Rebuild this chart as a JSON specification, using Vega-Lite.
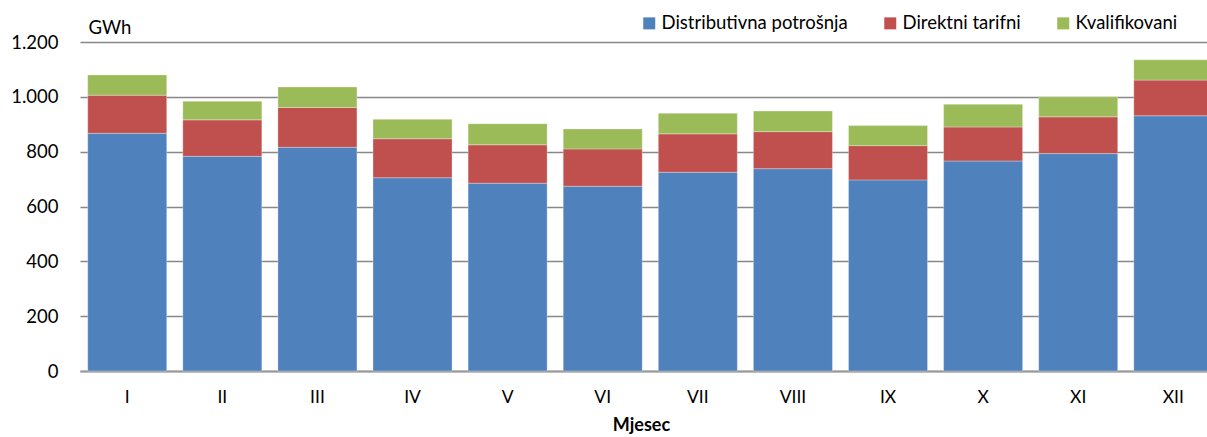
{
  "$schema": "https://vega.github.io/schema/vega-lite/v6.json",
  "width": 1135,
  "height": 329,
  "autosize": {"type": "none"},
  "padding": {"left": 80, "top": 42, "right": -8, "bottom": 66},
  "background": "white",
  "config": {
    "view": {"stroke": null},
    "font": "Lato",
    "axis": {"labelFont": "Lato", "titleFont": "Lato", "labelColor": "#000000", "titleColor": "#000000"},
    "legend": {"labelFont": "Lato"}
  },
  "data": {
    "values": [
      {"m": "I", "s": "Distributivna potrošnja", "r": 1, "v": 867},
      {"m": "I", "s": "Direktni tarifni", "r": 2, "v": 139},
      {"m": "I", "s": "Kvalifikovani", "r": 3, "v": 74},
      {"m": "II", "s": "Distributivna potrošnja", "r": 1, "v": 783},
      {"m": "II", "s": "Direktni tarifni", "r": 2, "v": 133},
      {"m": "II", "s": "Kvalifikovani", "r": 3, "v": 68},
      {"m": "III", "s": "Distributivna potrošnja", "r": 1, "v": 816},
      {"m": "III", "s": "Direktni tarifni", "r": 2, "v": 145},
      {"m": "III", "s": "Kvalifikovani", "r": 3, "v": 75},
      {"m": "IV", "s": "Distributivna potrošnja", "r": 1, "v": 705},
      {"m": "IV", "s": "Direktni tarifni", "r": 2, "v": 142},
      {"m": "IV", "s": "Kvalifikovani", "r": 3, "v": 71},
      {"m": "V", "s": "Distributivna potrošnja", "r": 1, "v": 685},
      {"m": "V", "s": "Direktni tarifni", "r": 2, "v": 140},
      {"m": "V", "s": "Kvalifikovani", "r": 3, "v": 77},
      {"m": "VI", "s": "Distributivna potrošnja", "r": 1, "v": 674},
      {"m": "VI", "s": "Direktni tarifni", "r": 2, "v": 136},
      {"m": "VI", "s": "Kvalifikovani", "r": 3, "v": 73},
      {"m": "VII", "s": "Distributivna potrošnja", "r": 1, "v": 725},
      {"m": "VII", "s": "Direktni tarifni", "r": 2, "v": 140},
      {"m": "VII", "s": "Kvalifikovani", "r": 3, "v": 75},
      {"m": "VIII", "s": "Distributivna potrošnja", "r": 1, "v": 738},
      {"m": "VIII", "s": "Direktni tarifni", "r": 2, "v": 135},
      {"m": "VIII", "s": "Kvalifikovani", "r": 3, "v": 75},
      {"m": "IX", "s": "Distributivna potrošnja", "r": 1, "v": 697},
      {"m": "IX", "s": "Direktni tarifni", "r": 2, "v": 125},
      {"m": "IX", "s": "Kvalifikovani", "r": 3, "v": 73},
      {"m": "X", "s": "Distributivna potrošnja", "r": 1, "v": 766},
      {"m": "X", "s": "Direktni tarifni", "r": 2, "v": 124},
      {"m": "X", "s": "Kvalifikovani", "r": 3, "v": 83},
      {"m": "XI", "s": "Distributivna potrošnja", "r": 1, "v": 793},
      {"m": "XI", "s": "Direktni tarifni", "r": 2, "v": 134},
      {"m": "XI", "s": "Kvalifikovani", "r": 3, "v": 73},
      {"m": "XII", "s": "Distributivna potrošnja", "r": 1, "v": 931},
      {"m": "XII", "s": "Direktni tarifni", "r": 2, "v": 130},
      {"m": "XII", "s": "Kvalifikovani", "r": 3, "v": 74}
    ]
  },
  "mark": {"type": "bar", "stroke": "#ffffff", "strokeWidth": 0.6, "strokeOpacity": 0.5},
  "encoding": {
    "x": {
      "field": "m",
      "type": "ordinal",
      "sort": ["I", "II", "III", "IV", "V", "VI", "VII", "VIII", "IX", "X", "XI", "XII"],
      "scale": {"paddingInner": 0.169, "paddingOuter": 0.052, "align": 0.78},
      "axis": {
        "title": "Mjesec",
        "titleFontWeight": "bold",
        "titleFontSize": 18,
        "titlePadding": 11,
        "titleX": 561,
        "labelAngle": 0,
        "labelFontSize": 17.5,
        "labelPadding": 17,
        "ticks": false,
        "domainColor": "#999999",
        "domainWidth": 2,
        "grid": false
      }
    },
    "y": {
      "field": "v",
      "type": "quantitative",
      "stack": "zero",
      "scale": {"domain": [0, 1200], "nice": false},
      "axis": {
        "values": [0, 200, 400, 600, 800, 1000, 1200],
        "labelExpr": "replace(format(datum.value, ','), ',', '.')",
        "labelFontSize": 18.5,
        "labelPadding": 22,
        "ticks": false,
        "domain": false,
        "grid": true,
        "gridColor": "#878787",
        "gridWidth": 1.3,
        "title": "GWh",
        "titleAngle": 0,
        "titleAlign": "left",
        "titleBaseline": "alphabetic",
        "titleFontWeight": "normal",
        "titleFontSize": 18.5,
        "titleX": 8,
        "titleY": -9
      }
    },
    "color": {
      "field": "s",
      "type": "nominal",
      "scale": {
        "domain": ["Distributivna potrošnja", "Direktni tarifni", "Kvalifikovani"],
        "range": ["#4F81BD", "#C0504D", "#9BBB59"]
      },
      "legend": {
        "title": null,
        "orient": "none",
        "direction": "horizontal",
        "legendX": 560,
        "legendY": -28,
        "symbolType": "square",
        "symbolSize": 144,
        "symbolStrokeWidth": 0,
        "labelFontSize": 18.5,
        "labelLimit": 400,
        "labelOffset": 3,
        "columnPadding": 33
      }
    },
    "order": {"field": "r", "type": "quantitative", "sort": "ascending"}
  }
}
